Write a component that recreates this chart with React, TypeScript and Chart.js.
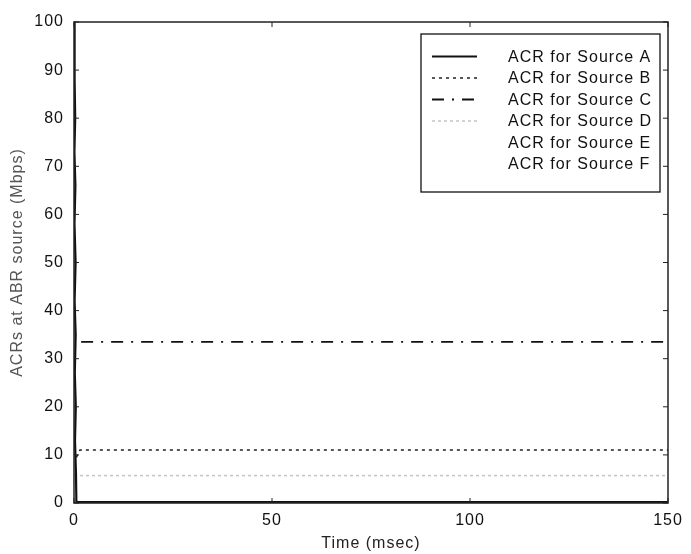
import { useEffect, useRef } from 'react';
import { Chart, registerables } from 'chart.js';

Chart.register(...registerables);

// ---- data ----
const xTickValues = [0, 50, 100, 150];
const yTickValues = [0, 10, 20, 30, 40, 50, 60, 70, 80, 90, 100];
const sourceNames = [
  'ACR for Source A',
  'ACR for Source B',
  'ACR for Source C',
  'ACR for Source D',
  'ACR for Source E',
  'ACR for Source F',
];

const timeA = [0, 0.25, 0.05, 0.3, 0.1, 0.35, 0.12, 0.4, 0.15, 0.42, 0.2, 0.45, 0.25, 0.5, 0.6, 150];
const acrA = [100, 94, 88, 80, 73, 66, 58, 50, 42, 35, 27, 20, 13, 6, 0.2, 0.2];
const timeB = [0.6, 1.5, 150];
const acrB = [9.5, 11, 11];
const timeC = [1.8, 150];
const acrC = [33.5, 33.5];
const timeD = [0, 150];
const acrD = [5.7, 5.7];
const timeE = [0, 150];
const acrE = [5.7, 5.7];
const timeF = [0, 150];
const acrF = [5.7, 5.7];

const pts = (t: number[], v: number[]) => t.map((x, i) => ({ x, y: v[i] }));

const FONT = "'Liberation Sans', Arial, Helvetica, sans-serif";

const styles = [
  { color: '#111111', dash: [] as number[], width: 2.2 },
  { color: '#222222', dash: [3, 4], width: 1.5 },
  { color: '#111111', dash: [12, 8, 2, 8], width: 1.8 },
  { color: '#c4c4c4', dash: [3, 3], width: 1.5 },
  { color: '#ffffff', dash: [] as number[], width: 1 },
  { color: '#ffffff', dash: [] as number[], width: 1 },
];

const spacingPlugin = {
  id: 'spacing',
  beforeDraw(chart: any) {
    const ctx = chart.ctx as any;
    ctx.letterSpacing = '1px';
  },
};

const framePlugin = {
  id: 'frame',
  afterDraw(chart: any) {
    const ctx = chart.ctx;
    const a = chart.chartArea;
    const xs = chart.scales.x;
    const ys = chart.scales.y;
    ctx.save();
    ctx.strokeStyle = '#222222';
    ctx.lineWidth = 1.5;
    ctx.setLineDash([]);
    ctx.strokeRect(a.left, a.top, a.right - a.left, a.bottom - a.top);
    ctx.lineWidth = 1;
    const tl = 5;
    ctx.beginPath();
    xTickValues.forEach((v) => {
      const px = xs.getPixelForValue(v);
      ctx.moveTo(px, a.bottom);
      ctx.lineTo(px, a.bottom - tl);
      ctx.moveTo(px, a.top);
      ctx.lineTo(px, a.top + tl);
    });
    yTickValues.forEach((v) => {
      const py = ys.getPixelForValue(v);
      ctx.moveTo(a.left, py);
      ctx.lineTo(a.left + tl, py);
      ctx.moveTo(a.right, py);
      ctx.lineTo(a.right - tl, py);
    });
    ctx.stroke();

    // legend
    const bx = 421, by = 34, bw = 239, bh = 158;
    ctx.fillStyle = '#ffffff';
    ctx.fillRect(bx, by, bw, bh);
    ctx.strokeStyle = '#111111';
    ctx.lineWidth = 1.3;
    ctx.strokeRect(bx, by, bw, bh);
    ctx.font = `16px ${FONT}`;
    (ctx as any).letterSpacing = '1px';
    ctx.textBaseline = 'middle';
    ctx.textAlign = 'left';
    chart.data.datasets.forEach((ds: any, i: number) => {
      const y = 56.5 + i * 21.5;
      ctx.strokeStyle = ds.borderColor;
      ctx.lineWidth = ds.borderWidth;
      ctx.setLineDash(ds.borderDash || []);
      ctx.beginPath();
      ctx.moveTo(432, y);
      ctx.lineTo(477, y);
      ctx.stroke();
      ctx.setLineDash([]);
      ctx.fillStyle = '#111111';
      ctx.fillText(ds.label, 508, y + 1);
    });
    ctx.restore();
  },
};

export default function App() {
  const ref = useRef<HTMLCanvasElement>(null);
  useEffect(() => {
    document.body.style.margin = '0';
    const canvas = ref.current;
    if (!canvas) return;
    const series = [
      pts(timeA, acrA),
      pts(timeB, acrB),
      pts(timeC, acrC),
      pts(timeD, acrD),
      pts(timeE, acrE),
      pts(timeF, acrF),
    ];
    const chart = new Chart(canvas, {
      type: 'line',
      data: {
        datasets: series.map((d, i) => ({
          label: sourceNames[i],
          data: d,
          borderColor: styles[i].color,
          borderDash: styles[i].dash,
          borderWidth: styles[i].width,
          pointRadius: 0,
          fill: false,
          tension: 0,
        })),
      },
      options: {
        animation: false,
        responsive: false,
        maintainAspectRatio: false,
        devicePixelRatio: 1,
        layout: { padding: { left: 0, right: 23, top: 22, bottom: 0 } },
        plugins: {
          legend: { display: false },
          tooltip: { enabled: false },
        },
        scales: {
          x: {
            type: 'linear',
            min: 0,
            max: 150,
            afterBuildTicks: (s: any) => {
              s.ticks = xTickValues.map((v) => ({ value: v }));
            },
            afterFit: (s: any) => {
              s.height = 51;
            },
            grid: { display: false, drawTicks: false },
            border: { display: false },
            ticks: {
              padding: 8,
              color: '#111111',
              font: { family: FONT, size: 16 },
              maxRotation: 0,
            },
            title: {
              display: true,
              text: 'Time (msec)',
              color: '#222222',
              font: { family: FONT, size: 16 },
              padding: { top: 0, bottom: 1 },
            },
          },
          y: {
            type: 'linear',
            min: 0,
            max: 100,
            afterBuildTicks: (s: any) => {
              s.ticks = yTickValues.map((v) => ({ value: v }));
            },
            afterFit: (s: any) => {
              s.width = 74;
            },
            grid: { display: false, drawTicks: false },
            border: { display: false },
            ticks: {
              padding: 10,
              color: '#111111',
              font: { family: FONT, size: 16 },
            },
            title: {
              display: true,
              text: 'ACRs at ABR source (Mbps)',
              color: '#555555',
              font: { family: FONT, size: 16 },
              padding: { top: 8, bottom: 0 },
            },
          },
        },
      },
      plugins: [spacingPlugin, framePlugin],
    } as any);
    return () => chart.destroy();
  }, []);
  return (
    <canvas
      ref={ref}
      width={691}
      height={554}
      style={{ display: 'block', width: 691, height: 554 }}
    />
  );
}
